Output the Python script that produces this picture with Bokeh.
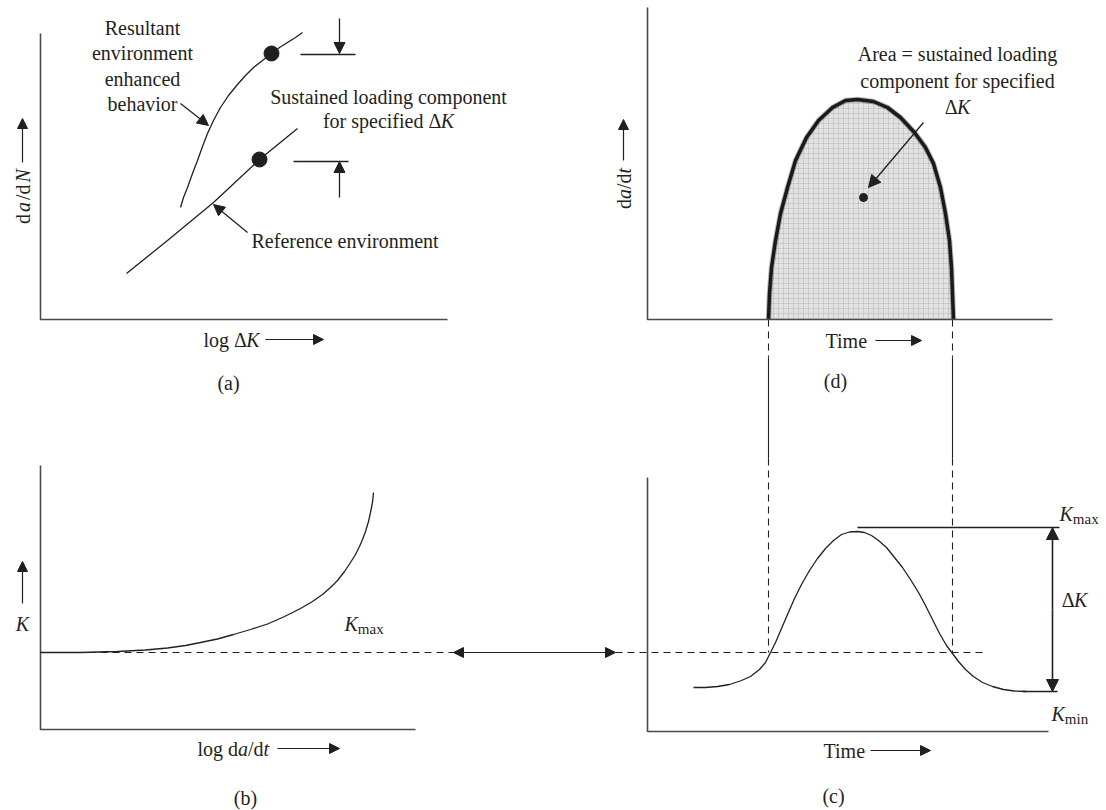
from math import pi

from bokeh.core.properties import value
from bokeh.embed import file_html
from bokeh.models import Arrow, NormalHead, Range1d
from bokeh.plotting import figure
from bokeh.resources import INLINE

# ---------------------------------------------------------------------------
# Curve data (canvas units: x to the right, y downward)
# ---------------------------------------------------------------------------
# (a) da/dN against log dK
resultant_x = [180, 183, 187, 192, 197, 202, 207, 213, 220, 228, 237, 245,
               253, 262, 271, 279, 287, 295, 302]
resultant_y = [207, 197, 187, 173, 160, 146, 133, 120, 107, 95, 84, 75,
               67, 60, 53, 47, 42, 37, 32]
reference_x = [126, 167, 213, 259, 297]
reference_y = [273, 240, 202, 159, 128]
marker_x = [271, 259]
marker_y = [53, 159]

# (b) K against log da/dt
k_curve_x = [40, 80, 117, 145, 167, 185, 200, 217, 233, 250, 267, 283, 300,
             312, 322, 330, 337, 344, 350, 355, 359, 362, 365, 368, 370, 372, 373]
k_curve_y = [652, 652, 651, 649.5, 647.5, 645, 642, 638.5, 634, 629, 623.5,
             616.5, 608, 601, 594, 587, 580, 571, 562, 554, 546, 539, 531,
             521, 512, 502, 492]

# (c) K against time
k_time_x = [693, 705, 717, 729, 741, 750, 759, 765, 769, 775, 781, 787, 794,
            801, 809, 817, 825, 833, 841, 849, 857, 864, 871, 878, 886, 894,
            902, 910, 918, 925, 932, 939, 946, 952, 958, 965, 973, 982, 992,
            1003, 1014, 1026]
k_time_y = [687, 687, 686, 684, 680, 676, 669, 662, 654, 642, 628, 614, 598,
            584, 570, 558, 548, 540, 534, 531.5, 531, 532, 535, 540, 547, 557,
            567, 579, 592, 605, 619, 633, 645, 653, 661, 669, 676, 682, 686,
            689, 690.5, 691]

# (d) da/dt against time
rate_x = [768, 769, 771, 775, 780, 787, 795, 806, 818, 832, 845, 857, 873,
          887, 900, 914, 925, 933, 940, 945, 949, 951, 952, 953]
rate_y = [319, 293, 267, 240, 213, 187, 160, 137, 120, 107, 100, 99, 101,
          107, 117, 132, 147, 163, 187, 213, 240, 267, 293, 319]
rate_point_x = [863]
rate_point_y = [197]

# Threshold level K* and the levels Kmax / Kmin
k_threshold = 652
k_max_level = 527
k_min_level = 691
t_start, t_end = 768, 952

# Texts
resultant_lines = ["Resultant", "environment", "enhanced", "behavior"]
sustained_line = "Sustained loading component"
area_lines = ["Area = sustained loading", "component for specified"]
reference_label = "Reference environment"
time_label = "Time"
panel_tags = ["(a)", "(b)", "(c)", "(d)"]

# ---------------------------------------------------------------------------
W, H = 1106, 810
INK = "#231f20"
AXIS = "#4a4a4a"
FONT = "Liberation Serif"
FS = 20

p = figure(width=W, height=H, x_range=Range1d(0, W), y_range=Range1d(H, 0),
           output_backend="svg", toolbar_location=None, min_border=0,
           x_axis_type=None, y_axis_type=None)
p.grid.visible = False
p.outline_line_color = None
p.background_fill_color = "white"
p.border_fill_color = "white"

# Times-like advance widths (em units) for the mixed-style labels
W_REG = {" ": .25, "(": .333, ")": .333, "/": .278, "=": .564, "Δ": .612,
         "a": .444, "c": .444, "d": .5, "e": .444, "f": .333, "g": .5,
         "i": .278, "l": .278, "m": .778, "n": .5, "o": .5, "p": .5,
         "r": .333, "s": .389, "t": .278, "x": .5}
W_ITA = {"K": .667, "N": .667, "a": .5, "t": .278}


def width(s, italic, size):
    table = W_ITA if italic else W_REG
    return sum(table.get(ch, .5) for ch in s) * size


def label(x, y, s, size=FS, italic=False, align="center", angle=0):
    p.text([x], [y], text=[s], angle=angle, text_font=value(FONT),
           text_font_size=value(f"{size}px"),
           text_font_style="italic" if italic else "normal",
           text_align=align, text_baseline="middle", text_color=INK)


def rich(x, y, pieces, size=FS, align="left", vertical=False, gap=0.0):
    """Run of text pieces: (string, italic, scale, drop)."""
    ws = [width(s, it, size * sc) for s, it, sc, _ in pieces]
    total = sum(ws) + gap * (len(pieces) - 1)
    pos = {"left": 0, "center": -total / 2, "right": -total}[align]
    for (s, it, sc, dy), w in zip(pieces, ws):
        if vertical:
            label(x + dy, y - pos, s, size * sc, it, "left", pi / 2)
        else:
            label(x + pos, y + dy, s, size * sc, it, "left")
        pos += w + gap


def arrow(x0, y0, x1, y1, both=False, size=11, lw=1.3):
    head = dict(size=size, fill_color=INK, line_color=INK, line_width=1)
    p.add_layout(Arrow(x_start=x0, y_start=y0, x_end=x1, y_end=y1,
                       line_color=INK, line_width=lw,
                       end=NormalHead(**head),
                       start=NormalHead(**head) if both else None))


def axes(x0, y_top, y0, x1):
    p.line([x0, x0, x1], [y_top, y0, y0], line_color=AXIS, line_width=1.6)


K_MAX = [("K", True, 1, 0), ("max", False, .75, 5)]
K_MIN = [("K", True, 1, 0), ("min", False, .75, 5)]
DELTA_K = [("Δ", False, 1, 0), ("K", True, 1, 0)]

# ---------------------------------------------------------------- panel (a)
axes(40, 33, 319, 447)
p.line(resultant_x, resultant_y, line_color=INK, line_width=1.3)
p.line(reference_x, reference_y, line_color=INK, line_width=1.3)
p.scatter(marker_x, marker_y, size=15, color=INK)
for i, s in enumerate(resultant_lines):
    label(142, 27 + 25.5 * i, s)
arrow(180, 103, 208, 125)
label(251, 240, reference_label, align="left")
arrow(247, 232, 213, 204)
label(388, 96, sustained_line)
rich(388, 120, [("for specified ", False, 1, 0)] + DELTA_K, align="center")
arrow(339, 18, 339, 53)
p.line([300, 355], [54, 54], line_color=INK, line_width=1.3)
arrow(339, 197, 339, 161)
p.line([293, 348], [161, 161], line_color=INK, line_width=1.3)
rich(22, 196, [("d", False, 1, 0), ("a", True, 1, 0), ("/d", False, 1, 0),
               ("N", True, 1, 0)], align="center", vertical=True, gap=2)
arrow(22, 162, 22, 118, size=10, lw=1.2)
rich(203, 339, [("log ", False, 1, 0)] + DELTA_K)
arrow(265, 339, 323, 339, size=10, lw=1.2)
label(228, 382, panel_tags[0])

# ---------------------------------------------------------------- panel (b)
axes(40, 465, 729, 415)
p.line(k_curve_x, k_curve_y, line_color=INK, line_width=1.3)
p.line([40, 453], [k_threshold, k_threshold], line_color=INK, line_width=1.1,
       line_dash="7 5")
label(22, 623, "K", italic=True)
arrow(22, 603, 22, 561, size=10, lw=1.2)
rich(344, 623, K_MAX)
rich(197, 748, [("log d", False, 1, 0), ("a", True, 1, 0), ("/d", False, 1, 0),
                ("t", True, 1, 0)])
arrow(277, 748, 339, 748, size=10, lw=1.2)
label(245, 797, panel_tags[1])

# link between (b) and (c) at the threshold level
arrow(453, k_threshold, 615, k_threshold, both=True, size=10, lw=1.2)

# ---------------------------------------------------------------- panel (c)
axes(647, 477, 731, 1048)
p.line([615, 983], [k_threshold, k_threshold], line_color=INK, line_width=1.1,
       line_dash="7 5")
p.line(k_time_x, k_time_y, line_color=INK, line_width=1.3)
p.line([857, 1059], [k_max_level, k_max_level], line_color=INK, line_width=1.3)
p.line([1022, 1057], [k_min_level, k_min_level], line_color=INK, line_width=1.3)
arrow(1052, 609, 1052, k_max_level, size=12, lw=1.6)
arrow(1052, 609, 1052, k_min_level, size=12, lw=1.6)
rich(1059, 513, K_MAX)
rich(1074, 599, DELTA_K, align="center")
rich(1051, 713, K_MIN)
label(823, 750, time_label, align="left")
arrow(870, 750, 930, 750, size=10, lw=1.2)
label(833, 795, panel_tags[2])

# projection lines from the crossings up to (d)
for tx in (t_start, t_end):
    p.line([tx, tx], [319, 357], line_color=INK, line_width=1.1, line_dash="7 5")
    p.line([tx, tx], [357, 458], line_color=INK, line_width=1.1)
    p.line([tx, tx], [458, k_threshold], line_color=INK, line_width=1.1,
           line_dash="7 5")

# ---------------------------------------------------------------- panel (d)
p.patch(rate_x, rate_y, fill_color="#e2e2e2", line_color=None,
        hatch_pattern="+", hatch_color="#8c8c8c", hatch_alpha=0.25,
        hatch_scale=5, hatch_weight=1)
p.line(rate_x, rate_y, line_color="#1a1a1a", line_width=5.5, line_alpha=0.3)
p.line(rate_x, rate_y, line_color="#1a1a1a", line_width=3.5)
axes(647, 7, 319, 1052)
p.scatter(rate_point_x, rate_point_y, size=8, color=INK)
arrow(923, 122, 868, 187, size=12, lw=1.3)
for i, s in enumerate(area_lines):
    label(957, 53 + 27 * i, s)
rich(957, 106, DELTA_K, align="center")
rich(623, 188, [("d", False, 1, 0), ("a", True, 1, 0), ("/d", False, 1, 0),
                ("t", True, 1, 0)], align="center", vertical=True)
arrow(623, 160, 623, 119, size=10, lw=1.2)
label(825, 340, time_label, align="left")
arrow(875, 340, 921, 340, size=10, lw=1.2)
label(835, 380, panel_tags[3])

open("out.html", "w").write(file_html(p, INLINE))
